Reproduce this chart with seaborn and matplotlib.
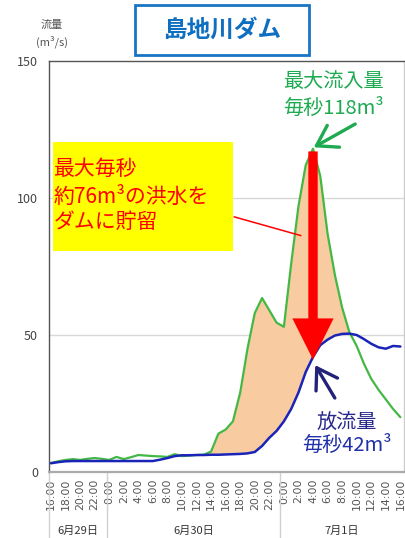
import numpy as np
import pandas as pd
import matplotlib
matplotlib.use("Agg")
import matplotlib.pyplot as plt
from matplotlib.patches import Rectangle
import seaborn as sns

# ---- data ----
hours = list(range(0, 49))  # hours since 6/29 16:00
inflow = [3.3, 3.9, 4.4, 4.7, 4.4, 4.8, 5.1, 4.8, 4.4, 5.5,
          4.7, 5.4, 6.2, 6.0, 5.8, 5.7, 5.5, 6.5, 5.8, 6.0,
          6.2, 6.3, 7.5, 14.0, 15.5, 18.5, 29.0, 45.0, 58.0, 63.5,
          59.0, 54.5, 53.0, 76.0, 97.0, 112.0, 118.0, 108.0, 87.0, 72.0,
          60.0, 51.0, 46.0, 39.5, 34.0, 30.0, 26.5, 23.0, 20.0]
outflow = [3.2, 3.6, 3.9, 4.0, 4.0, 4.0, 4.0, 4.0, 4.0, 4.0,
           4.0, 4.0, 4.0, 4.0, 4.0, 4.5, 5.1, 5.8, 6.1, 6.1,
           6.2, 6.2, 6.3, 6.3, 6.4, 6.5, 6.6, 6.8, 7.3, 9.5,
           12.5, 15.0, 18.5, 23.0, 29.0, 36.5, 42.0, 46.3, 48.3, 49.8,
           50.4, 50.5, 50.0, 48.5, 46.8, 45.5, 45.0, 46.0, 45.8]
tick_hours = list(range(0, 49, 2))
tick_labels = [f"{(16 + h) % 24}:00" for h in tick_hours]
date_labels = ["6月29日", "6月30日", "7月1日"]
date_bounds = [-0.27, 7.7, 31.4, 48.5]
peak_in = 118
peak_out = 42
peak_hour = 36
title = "島地川ダム"

df = pd.DataFrame({"hour": hours, "inflow": inflow, "outflow": outflow})

sns.set_style("white")
plt.rcParams["font.family"] = ["Noto Sans CJK JP", "DejaVu Sans"]

W, H = 405, 538
fig = plt.figure(figsize=(W / 100, H / 100), dpi=100)

def fx(x):
    return x / W

def fy(y):
    return 1 - y / H

ax = fig.add_axes([fx(49), fy(472), (404 - 49) / W, (472 - 61) / H])

x = df["hour"].to_numpy()
yi = df["inflow"].to_numpy()
yo = df["outflow"].to_numpy()
ax.fill_between(x, yo, yi, where=(x >= 21) & (yi >= yo), interpolate=True,
                color="#F8CBA0", lw=0, zorder=1)
sns.lineplot(data=df, x="hour", y="inflow", ax=ax, color="#44B844", lw=1.6, zorder=3)
sns.lineplot(data=df, x="hour", y="outflow", ax=ax, color="#1A24B8", lw=1.8, zorder=4)

ax.set_xlim(-0.27, 48.5)
ax.set_ylim(0, 150)
ax.set_yticks([0, 50, 100, 150])
ax.set_yticklabels(["0", "50", "100", "150"], fontsize=9, color="#444444")
ax.set_xticks(tick_hours)
ax.set_xticklabels(tick_labels, rotation=90, fontsize=7.8, color="#555555",
                   family=["DejaVu Sans"])
ax.tick_params(axis="both", length=0)
ax.tick_params(axis="y", pad=8)
ax.tick_params(axis="x", pad=5)
ax.set_xlabel("")
ax.set_ylabel("")
for v in (50, 100):
    ax.axhline(v, color="#D8D8D8", lw=1, zorder=0)

for s in ("left", "top"):
    ax.spines[s].set_color("#555555")
    ax.spines[s].set_linewidth(1)
ax.spines["right"].set_color("#CCCCCC")
ax.spines["right"].set_linewidth(1)
ax.spines["bottom"].set_color("#AAAAAA")
ax.spines["bottom"].set_linewidth(1.6)

# date separators and labels
trans = matplotlib.transforms.blended_transform_factory(ax.transData, ax.transAxes)
for b in date_bounds[:-1]:
    ax.plot([b, b], [0, -0.17], transform=trans, color="#D0D0D0", lw=1, clip_on=False)
for i, lab in enumerate(date_labels):
    cx = (date_bounds[i] + date_bounds[i + 1]) / 2
    ax.text(cx, -0.143, lab, transform=trans, ha="center", va="center",
            fontsize=8, color="#333333")

# yellow box annotation
fig.patches.append(Rectangle((fx(53), fy(251)), fx(233) - fx(53), fy(142) - fy(251),
                             transform=fig.transFigure, facecolor="#FFFF00",
                             edgecolor="none", zorder=5))
for txt, yy in [("最大毎秒", 169), ("約76m³の洪水を", 197), ("ダムに貯留", 222)]:
    fig.text(fx(54), fy(yy), txt, ha="left", va="center", fontsize=15,
             color="#FF0000", zorder=6)
ax.annotate("", xy=(34.7, 86), xytext=(24.8, 93.4),
            arrowprops=dict(arrowstyle="-", color="#FF0000", lw=1.1))

# big red arrow: stored volume
ax.annotate("", xy=(peak_hour, peak_out - 1), xytext=(peak_hour, peak_in - 1),
            arrowprops=dict(arrowstyle="simple,head_length=1.1,head_width=1.1,tail_width=0.25",
                            color="#FF0000", lw=0, mutation_scale=27, shrinkA=0, shrinkB=0),
            zorder=6)

# inflow annotation
fig.text(fx(333), fy(82), "最大流入量", ha="center", va="center", fontsize=14.5,
         color="#1DAA50")
fig.text(fx(333), fy(108), f"毎秒{peak_in}m³", ha="center", va="center", fontsize=14.5,
         color="#1DAA50")
ax.annotate("", xy=(peak_hour + 0.1, peak_in + 0.5), xytext=(41.8, 127),
            arrowprops=dict(arrowstyle="->,head_length=0.7,head_width=0.45",
                            color="#1DAA50", lw=2.4, mutation_scale=20,
                            shrinkA=0, shrinkB=0), zorder=7)

# outflow annotation
fig.text(fx(347), fy(423), "放流量", ha="center", va="center", fontsize=14.5,
         color="#28288C", zorder=8,
         bbox=dict(facecolor="white", edgecolor="none", pad=0.5, alpha=0.9))
fig.text(fx(347), fy(445), f"毎秒{peak_out}m³", ha="center", va="center", fontsize=14.5,
         color="#2030A8", zorder=8,
         bbox=dict(facecolor="white", edgecolor="none", pad=0.5, alpha=0.9))
ax.annotate("", xy=(peak_hour + 0.3, peak_out - 3), xytext=(39.0, 27),
            arrowprops=dict(arrowstyle="->,head_length=0.7,head_width=0.45",
                            color="#22227A", lw=2.4, mutation_scale=20,
                            shrinkA=0, shrinkB=0), zorder=7)

# title box and unit label
fig.patches.append(Rectangle((fx(135), fy(55)), fx(309) - fx(135), fy(5) - fy(55),
                             transform=fig.transFigure, facecolor="white",
                             edgecolor="#1874C4", lw=2, zorder=5))
fig.text(fx(222), fy(30), title, ha="center", va="center", fontsize=17,
         fontweight="bold", color="#0E6EC0", zorder=6)
fig.text(fx(52), fy(25), "流量", ha="center", va="center", fontsize=8, color="#555555")
fig.text(fx(52), fy(42), "(m³/s)", ha="center", va="center", fontsize=8, color="#555555")

fig.savefig("out.png", dpi=100)
